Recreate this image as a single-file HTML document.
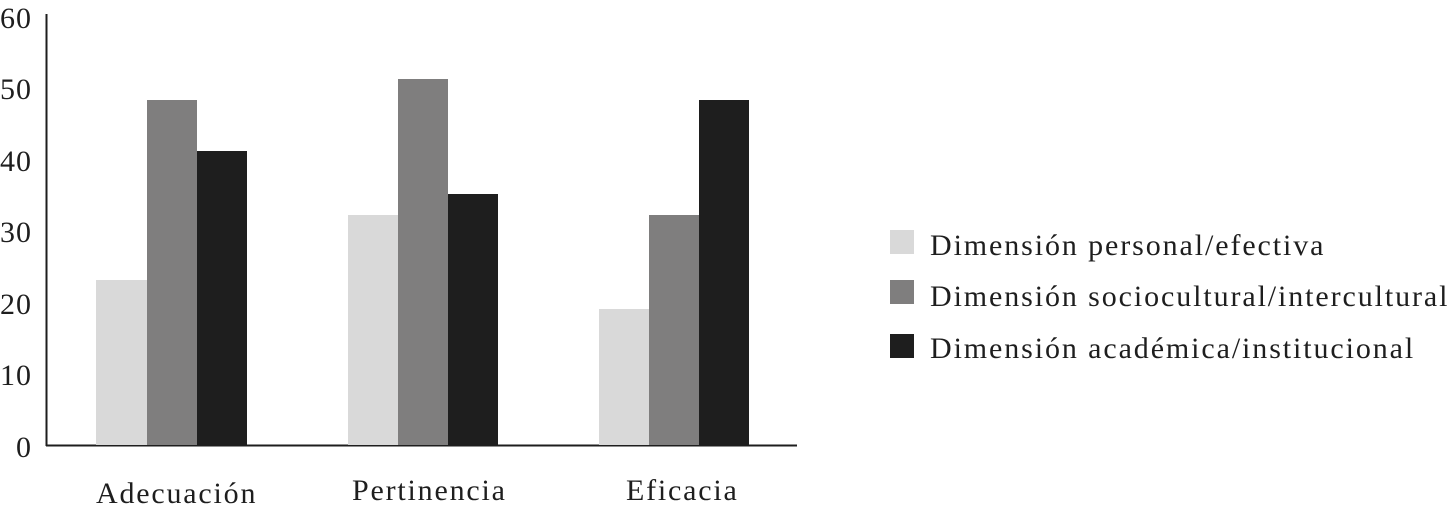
<!DOCTYPE html>
<html><head><meta charset="utf-8"><style>
html,body{margin:0;padding:0;background:#fff;}
svg text{font-family:"Liberation Serif",serif;fill:#1e1e1e;}
</style></head><body>
<svg width="1453" height="511" viewBox="0 0 1453 511" xmlns="http://www.w3.org/2000/svg">
<g font-size="30" letter-spacing="1">
<text x="0" y="28">60</text>
<text x="0" y="99">50</text>
<text x="0" y="171">40</text>
<text x="0" y="242">30</text>
<text x="0" y="314">20</text>
<text x="0" y="385">10</text>
<text x="16" y="457">0</text>
</g>
<line x1="46.5" y1="14" x2="46.5" y2="446" stroke="#1e1e1e" stroke-width="2"/>
<line x1="46" y1="445.5" x2="797" y2="445.5" stroke="#1e1e1e" stroke-width="2"/>
<g>
<rect x="96" y="280" width="51" height="165" fill="#d9d9d9"/>
<rect x="147" y="100" width="50" height="345" fill="#7f7e7e"/>
<rect x="197" y="151" width="50" height="294" fill="#1e1e1e"/>
<rect x="348" y="215" width="50" height="230" fill="#d9d9d9"/>
<rect x="398" y="79" width="50" height="366" fill="#7f7e7e"/>
<rect x="448" y="194" width="50" height="251" fill="#1e1e1e"/>
<rect x="599" y="309" width="50" height="136" fill="#d9d9d9"/>
<rect x="649" y="215" width="50" height="230" fill="#7f7e7e"/>
<rect x="699" y="100" width="50" height="345" fill="#1e1e1e"/>
</g>
<g font-size="30" letter-spacing="1.8">
<text x="96" y="503">Adecuación</text>
<text x="352" y="500">Pertinencia</text>
<text x="626" y="500">Eficacia</text>
</g>
<rect x="890" y="230" width="24" height="24" fill="#d9d9d9"/>
<rect x="890" y="280" width="24" height="24" fill="#7f7e7e"/>
<rect x="890" y="334" width="24" height="24" fill="#1e1e1e"/>
<g font-size="30" letter-spacing="1.9">
<text x="930" y="255">Dimensión personal/efectiva</text>
<text x="930" y="306">Dimensión sociocultural/intercultural</text>
<text x="930" y="358">Dimensión académica/institucional</text>
</g>
</svg>
</body></html>
